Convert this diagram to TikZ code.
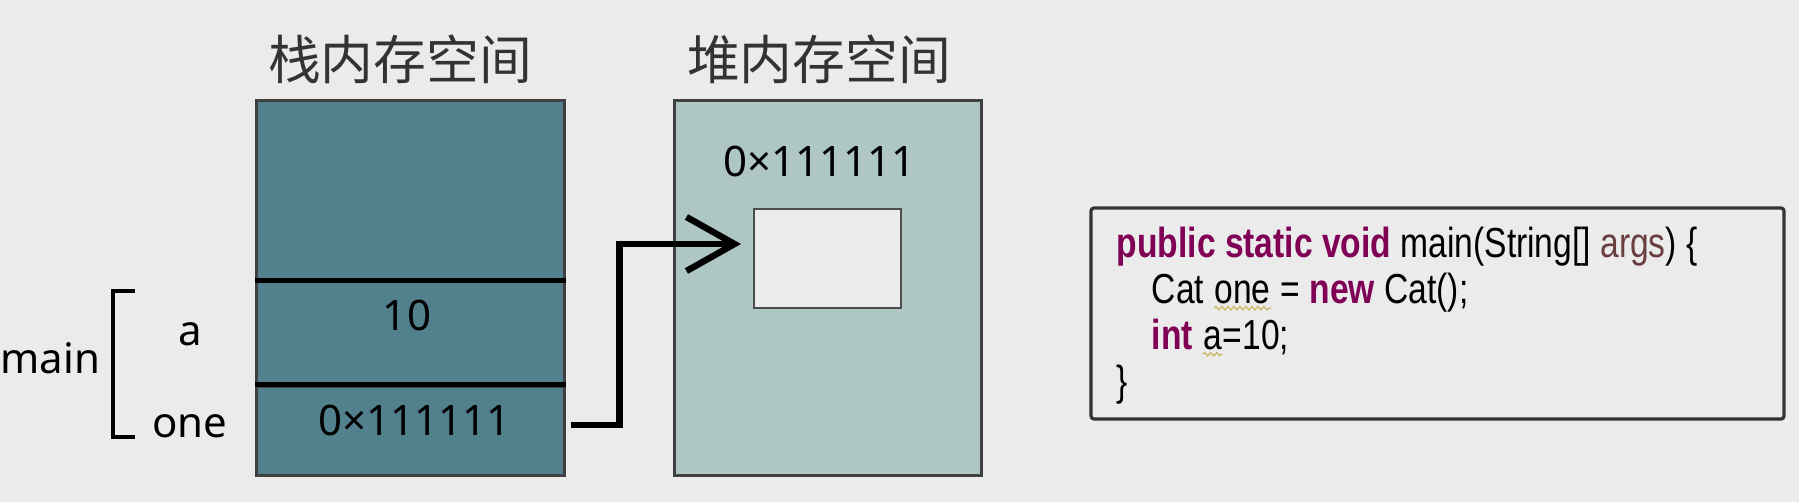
\documentclass[tikz,border=0pt]{standalone}
\usepackage{fontspec}
\setmainfont{Noto Sans CJK SC}
\newfontfamily\latinfont{Noto Sans}
\newfontfamily\codefont[FakeStretch=0.8]{Liberation Sans}
\usepackage{tikz}
\usetikzlibrary{positioning}
\usetikzlibrary{arrows.meta}
\usetikzlibrary{decorations.pathmorphing}

\definecolor{bggray}{HTML}{EBEBEB}
\definecolor{stackcol}{HTML}{52808C}
\definecolor{heapcol}{HTML}{AEC6C4}
\definecolor{kwpurple}{HTML}{7F0055}
\definecolor{argbrown}{HTML}{6A3E3E}
\definecolor{squigcol}{HTML}{C8B45A}

\newcommand{\kw}[1]{{\bfseries\color{kwpurple}#1}}
\newcommand{\squig}[1]{\tikz[baseline=(w.base)]{\node[inner sep=0pt] (w) {#1}; \draw[squigcol, line width=0.6pt, decorate, decoration={snake, amplitude=0.8pt, segment length=3pt}] ([yshift=-2.5pt]w.base west) -- ([yshift=-2.5pt]w.base east);}}

\tikzset{
	stackcell/.style={draw=black!75, line width=1.5pt, fill=stackcol, minimum width=154pt, inner sep=0pt},
	heapbox/.style={draw=black!75, line width=1.5pt, fill=heapcol, minimum width=153.5pt, minimum height=187pt, inner sep=0pt},
	objbox/.style={draw=black!70, line width=1pt, fill=bggray, minimum width=73.5pt, minimum height=49.5pt, inner sep=0pt},
	divider/.style={line width=2.2pt, black},
	title/.style={font=\fontsize{26.4pt}{30pt}\selectfont, text=black!80, inner sep=0pt},
	val/.style={font=\latinfont\fontsize{21pt}{24pt}\selectfont, text=black, inner sep=0pt},
	lbl/.style={font=\latinfont\fontsize{21pt}{24pt}\selectfont, text=black, inner sep=0pt},
	brk/.style={line width=2pt, black},
	ptr/.style={line width=3.2pt, black, -{Straight Barb[length=24pt, width=27pt]}},
	codebox/.style={draw=black!80, line width=1.6pt, rounded corners=1.5pt, fill=bggray, minimum width=346.5pt, minimum height=105.5pt, inner sep=0pt},
	codetext/.style={font=\codefont\fontsize{21pt}{23pt}\selectfont, align=left, inner sep=0pt}
}

\begin{document}
\begin{tikzpicture}[x=0.5pt, y=-0.5pt]

	\fill[bggray] (0,0) rectangle (1799,502);
	\useasboundingbox (0,0) rectangle (1799,502);

	% stack side
	\node[stackcell, minimum height=90.5pt] (stacktop) at (410,191.5) {};
	\node[stackcell, minimum height=52pt] (stackA) at (410,334) {};
	\node[stackcell, minimum height=44.5pt] (stackOne) at (410,430.5) {};
	\draw[divider] (stackA.north west) -- (stackA.north east);
	\draw[divider] (stackOne.north west) -- (stackOne.north east);

	\node[title, anchor=base] (stacktitle) at (400,80) {栈内存空间};
	\node[val, anchor=base] (vala) at (407,330) {10};
	\node[val, anchor=base] (valone) at (414.5,435) {0×111111};

	% heap side
	\node[heapbox] (heap) at (827.5,288) {};
	\node[title, anchor=base] (heaptitle) at (819,80) {堆内存空间};
	\node[val, anchor=base] (objaddr) at (819.5,177) {0×111111};
	\node[objbox] (obj) at (827.5,258.5) {};

	% frame of main
	\coordinate (brtop) at (135,291);
	\coordinate (brbot) at (135,437);
	\draw[brk] (brtop) -- ++(-11pt,0) |- (brbot);
	\node[lbl, anchor=base west] (frame) at (0,373) {main};
	\node[lbl, anchor=base] (vara) at (190,345) {a};
	\node[lbl, anchor=base] (varone) at (190,437) {one};

	% reference into the heap
	\coordinate (ptrstart) at ([xshift=2.5pt, yshift=2.75pt]stackOne.east);
	\coordinate (objin) at ([xshift=-6pt, yshift=7.25pt]obj.west);
	\draw[ptr] (ptrstart) -- ++(24.5pt,0) |- (objin);

	% source code
	\node[codebox] (code) at (1437.5,313.5) {};
	\node[codetext, anchor=north west] (codelines) at ([xshift=13.5pt, yshift=-10pt]code.north west)
		{\kw{public static void} main(String[] {\color{argbrown}args}) \{\\
		\hspace*{17.5pt}Cat \squig{one} = \kw{new} Cat();\\
		\hspace*{17.5pt}\kw{int} \squig{a}=10;\\
		\}};

\end{tikzpicture}
\end{document}
